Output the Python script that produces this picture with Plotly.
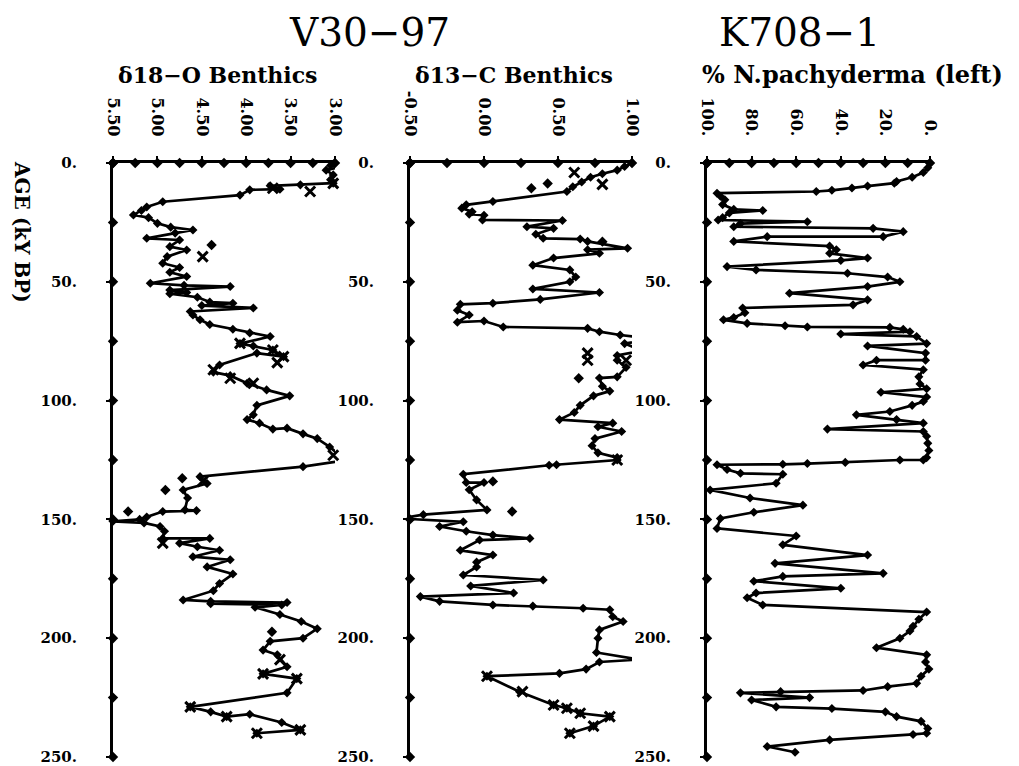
import numpy as np
import plotly.graph_objects as go

W, H = 1019, 766          # browser window
OFF = 8                   # default page body margin
FW, FH = W - 2 * OFF, H - OFF

# ---------------- data ----------------
# Panel 1: V30-97 delta18-O benthics (age kyr BP, permil)
p1_age = [0, 1, 2, 3, 5, 7, 8.5, 9.2, 9.6, 11, 11.3, 13.5, 16.3, 18.5, 20, 21.9, 23, 25.4, 27, 28.2,
          29.5, 31.7, 32.4, 35.2, 36.6, 39.4, 42.2, 44, 46, 47.8, 50.6, 51.5, 52, 53.5, 54.5, 55, 56.5,
          58.5, 59, 60, 61, 62.5, 64, 66, 68, 70, 71.5, 73, 76, 77, 78.7, 81.5, 80, 85, 88, 89.5, 92.7,
          95.5, 98, 102, 106, 108, 109.5, 112, 111.6, 114, 116, 119.5, 122, 125, 127.8, 132, 134.9,
          137.6, 141, 146, 146.3, 146.7, 149, 150, 150.8, 151.5, 153, 155, 158, 158, 160, 161.5, 163,
          165.7, 167, 170, 173, 177, 180, 183.9, 184.5, 185, 185.5, 186, 187, 190, 193, 196, 200,
          201.3, 205, 207, 212, 215, 217, 223, 228.9, 231, 233, 232, 235.5, 238.6, 240]
p1_val = [3.00, 3.05, 2.98, 3.10, 3.02, 3.05, 3.02, 3.39, 3.73, 3.62, 3.96, 4.07, 4.94, 5.12, 5.18, 5.27,
          5.10, 5.00, 4.85, 4.60, 4.80, 5.12, 4.75, 4.86, 4.67, 4.89, 4.94, 4.75, 4.86, 4.67, 5.08, 4.70,
          4.18, 4.86, 4.67, 4.86, 4.55, 4.41, 4.15, 4.50, 3.92, 4.63, 4.60, 4.52, 4.41, 4.15, 3.96, 3.73,
          4.07, 3.92, 3.70, 3.58, 3.88, 4.30, 4.37, 4.18, 3.99, 3.77, 3.51, 3.88, 3.92, 3.99, 3.85, 3.70,
          3.54, 3.36, 3.20, 3.06, 2.98, 2.86, 3.36, 4.52, 4.44, 4.71, 4.66, 4.69, 4.56, 4.94, 5.12, 5.20,
          5.50, 5.15, 4.97, 4.92, 4.94, 4.41, 4.75, 4.55, 4.30, 4.60, 4.18, 4.44, 4.15, 4.30, 4.37, 4.71,
          4.40, 3.54, 4.40, 3.60, 3.90, 3.62, 3.38, 3.20, 3.36, 3.73, 3.81, 3.65, 3.54, 3.81, 3.43, 3.54,
          4.63, 4.40, 4.22, 3.96, 3.60, 3.39, 3.88]
p1_pt_age = [34.5, 132.7, 137.6, 146.7, 197.3]
p1_pt_val = [4.39, 4.72, 4.91, 5.33, 3.71]
p1_x_age = [2.2, 8.6, 12, 10.6, 39.4, 75.9, 78.7, 81.5, 84, 87, 90.6, 92.7, 122, 125, 123, 134, 160,
            209, 215, 217, 228.9, 233, 238.6, 240]
p1_x_val = [2.98, 3.02, 3.28, 3.70, 4.49, 4.07, 3.70, 3.58, 3.65, 4.37, 4.18, 3.92, 2.98, 2.86, 3.02,
            4.49, 4.94, 3.62, 3.81, 3.43, 4.63, 4.22, 3.39, 3.88]

# Panel 2: V30-97 delta13-C benthics
p2_age = [0, 1.5, 3, 4.5, 6, 8, 10, 12, 16.2, 17.6, 19, 20.5, 21.5, 22, 24, 24.2, 26.8, 27.5, 30, 31.7,
          32, 33, 35.9, 36.5, 38, 40, 43, 45, 48, 50, 53, 54.5, 57.4, 59, 59.5, 62, 64, 67, 66.5, 69,
          69.6, 71, 72.4, 74, 76, 79, 81, 83, 86, 90, 90.5, 94, 96, 98, 102, 105, 108, 109.5, 111, 113,
          116, 119, 122, 124, 125, 127, 127.2, 131, 134.5, 134.5, 137.5, 141.8, 146, 148, 149.6, 151,
          153, 155, 156.6, 158, 158.7, 163, 165, 168, 170, 173.4, 175.5, 178, 181, 182.5, 184.5, 186,
          186.5, 187.4, 188, 191, 193, 196.5, 200, 206, 209, 210, 213, 214.8, 216, 222.5, 228.1, 229.5,
          231.6, 233, 237, 240]
p2_val = [1.00, 0.95, 0.90, 0.80, 0.72, 0.66, 0.60, 0.56, 0.06, -0.12, -0.15, -0.08, -0.10, 0.00, -0.01,
          0.53, 0.29, 0.47, 0.35, 0.40, 0.65, 0.70, 0.97, 0.70, 0.78, 0.47, 0.33, 0.58, 0.62, 0.58, 0.33,
          0.78, 0.38, 0.06, -0.16, -0.18, -0.10, -0.18, 0.00, 0.13, 0.70, 0.78, 0.92, 1.14, 0.95, 1.07,
          0.90, 0.90, 0.96, 0.90, 0.78, 0.80, 0.85, 0.74, 0.65, 0.61, 0.51, 0.87, 0.77, 0.93, 0.75, 0.73,
          0.77, 0.90, 0.90, 0.49, 0.44, -0.14, -0.12, 0.00, -0.10, -0.05, 0.02, -0.41, -0.57, -0.14, -0.30,
          -0.12, 0.06, 0.31, -0.03, -0.16, 0.06, -0.05, -0.05, -0.14, 0.40, -0.09, 0.20, -0.43, -0.30, 0.06,
          0.33, 0.67, 0.85, 0.87, 0.94, 0.78, 0.77, 0.76, 1.05, 0.78, 0.69, 0.51, 0.02, 0.24, 0.47, 0.56,
          0.65, 0.85, 0.74, 0.58]
p2_pt_age = [10.6, 8.6, 33.1, 90.6, 134, 146.7, 194.5]
p2_pt_val = [0.32, 0.43, 0.80, 0.64, 0.06, 0.19, 1.01]
p2_x_age = [0.4, 8.2, 4, 9, 38.7, 35.9, 75, 78, 79, 80, 83, 83, 89.9, 125, 209, 216, 222.5, 228.1,
            229.5, 231.6, 233, 237, 240]
p2_x_val = [1.07, 1.05, 0.61, 0.80, 1.01, 1.18, 1.24, 1.18, 1.07, 0.70, 0.70, 0.96, 1.02, 0.90, 1.05,
            0.02, 0.26, 0.47, 0.56, 0.65, 0.85, 0.74, 0.58]

# Panel 3: K708-1 % N. pachyderma (left)
p3_age = [0, 2, 4, 6, 7.8, 8.5, 9.7, 10.5, 11.5, 12, 12.7, 14, 15.5, 17.5, 19.5, 20, 21, 23, 24, 24.7,
          25.5, 26.8, 27.5, 28.9, 31, 31, 33, 35, 36.5, 38, 40, 41, 43.6, 45, 46.4, 48, 50, 52, 54.8,
          57.6, 59.7, 61, 63, 65, 66, 67.5, 68.5, 69, 69.2, 70, 71, 72, 73, 76, 77, 80, 83, 83, 85, 87,
          90, 93, 95, 96.5, 98.5, 100.4, 102, 104.6, 106, 108, 109.5, 112, 113, 115, 118, 121, 124, 125,
          125, 126, 126.5, 126.8, 127, 129, 130.6, 131, 134.8, 137.6, 141, 144, 147, 149.6, 153.8, 157,
          160.7, 165, 168.5, 172.7, 174, 176, 179, 181, 183, 186, 189, 192, 195, 197, 200, 204, 207, 210,
          213, 216, 219, 220.4, 222, 222.5, 223, 225, 226, 228.9, 229.6, 231, 233, 235, 238, 240, 240.5,
          242.8, 245.6, 248]
p3_val = [0, 1, 3, 8, 15, 16, 28, 35, 44, 51, 95.5, 94, 92, 93, 88, 75, 90, 93, 95, 55, 85, 88, 25.5, 12,
          21, 73, 88, 45, 42, 45, 28, 40, 91, 78, 37, 19, 13.5, 28, 63, 28, 34.5, 84, 83, 88, 92.6, 82, 65,
          55, 18, 12, 9, 40, 6, 1.5, 28, 2, 2, 24, 30, 3, 5, 4.5, 1.5, 22, 1.5, 3, 8, 18, 33, 15, 3, 46, 3,
          1.5, 1, 0.5, 1.5, 3, 13.5, 38, 55, 66, 95.5, 91, 85, 66, 69, 98.6, 80.7, 57, 79, 94, 95.5, 60, 66,
          28, 69.5, 21, 66, 79, 40, 78, 82, 75, 1.5, 5, 7.6, 9, 13.5, 24, 1.5, 2, 0.5, 4, 6, 19, 30, 67, 85,
          54, 80, 69, 44, 20, 15, 4, 1, 1.5, 7.6, 45, 73, 60.5]

# axes
age_ticks = [0, 50, 100, 150, 200, 250]
age_text = ["0.", "50.", "100.", "150.", "200.", "250."]
p1_ticks = [5.5, 5.0, 4.5, 4.0, 3.5, 3.0]
p1_text = ["5.50", "5.00", "4.50", "4.00", "3.50", "3.00"]
p2_ticks = [-0.5, 0.0, 0.5, 1.0]
p2_text = ["-0.50", "0.00", "0.50", "1.00"]
p3_ticks = [100, 80, 60, 40, 20, 0]
p3_text = ["100.", "80.", "60.", "40.", "20.", "0."]

# ---------------- layout helpers (screen pixels -> paper) ----------------
def px_x(p):
    return (p - OFF) / FW

def px_y(p):
    return 1 - (p - OFF) / FH

panel_px = [(113, 335), (410, 632), (707, 930)]
y_top, y_bot = 163, 757
ranges = [[5.5, 3.0], [-0.5, 1.0], [100, 0]]
minor = [0.25, 0.25, 10]
tickv = [p1_ticks, p2_ticks, p3_ticks]
tickt = [p1_text, p2_text, p3_text]

TFONT = "DejaVu Serif"
fig = go.Figure()

series = [
    (p1_age, p1_val, p1_pt_age, p1_pt_val, p1_x_age, p1_x_val),
    (p2_age, p2_val, p2_pt_age, p2_pt_val, p2_x_age, p2_x_val),
    (p3_age, p3_val, [], [], [], []),
]

for i, (a, v, pa, pv, xa, xv) in enumerate(series):
    xs = "x" if i == 0 else f"x{i+1}"
    ys = "y" if i == 0 else f"y{i+1}"
    # axis decoration: diamond tick marks along axis lines
    lo, hi = min(ranges[i]), max(ranges[i])
    tv = np.arange(lo, hi + minor[i] / 2, minor[i])
    fig.add_trace(go.Scatter(x=tv, y=[0] * len(tv), xaxis=xs, yaxis=ys, mode="markers",
                             marker=dict(symbol="diamond", size=8, color="black"),
                             cliponaxis=False, showlegend=False, hoverinfo="skip"))
    av = np.arange(0, 251, 25)
    fig.add_trace(go.Scatter(x=[ranges[i][0]] * len(av), y=av, xaxis=xs, yaxis=ys, mode="markers",
                             marker=dict(symbol="diamond", size=8, color="black"),
                             cliponaxis=False, showlegend=False, hoverinfo="skip"))
    # data line
    fig.add_trace(go.Scatter(x=v, y=a, xaxis=xs, yaxis=ys, mode="lines+markers",
                             line=dict(color="black", width=2.7),
                             marker=dict(symbol="diamond", size=7, color="black"),
                             cliponaxis=False, showlegend=False))
    if pa:
        fig.add_trace(go.Scatter(x=pv, y=pa, xaxis=xs, yaxis=ys, mode="markers",
                                 marker=dict(symbol="diamond", size=8, color="black"),
                                 cliponaxis=False, showlegend=False))
    if xa:
        fig.add_trace(go.Scatter(x=xv, y=xa, xaxis=xs, yaxis=ys, mode="markers",
                                 marker=dict(symbol="x-thin", size=10, color="black",
                                             line=dict(width=3, color="black")),
                                 cliponaxis=False, showlegend=False))

layout = dict(width=FW, height=FH, margin=dict(l=0, r=0, t=0, b=0, autoexpand=False),
              paper_bgcolor="white", plot_bgcolor="white", showlegend=False)
for i in range(3):
    xk = "xaxis" if i == 0 else f"xaxis{i+1}"
    yk = "yaxis" if i == 0 else f"yaxis{i+1}"
    xs = "x" if i == 0 else f"x{i+1}"
    ys = "y" if i == 0 else f"y{i+1}"
    layout[xk] = dict(domain=[px_x(panel_px[i][0]), px_x(panel_px[i][1])], anchor=ys, side="top",
                      range=ranges[i], tickmode="array", tickvals=tickv[i], ticktext=tickt[i],
                      tickangle=90, showline=True, linecolor="black", linewidth=3,
                      ticks="outside", ticklen=4, tickwidth=2, tickcolor="black",
                      ticklabelstandoff=14, automargin=False, ticklabeloverflow="allow",
                      showgrid=False, zeroline=False,
                      tickfont=dict(family=TFONT, size=16, color="black", weight="bold"))
    layout[yk] = dict(domain=[px_y(y_bot), px_y(y_top)], anchor=xs, range=[250, 0],
                      tickmode="array", tickvals=age_ticks, ticktext=age_text,
                      showline=True, linecolor="black", linewidth=3,
                      ticks="outside", ticklen=4, tickwidth=2, tickcolor="black",
                      ticklabelstandoff=26, automargin=False, ticklabeloverflow="allow",
                      showgrid=False, zeroline=False,
                      tickfont=dict(family=TFONT, size=15, color="black", weight="bold"))
fig.update_layout(**layout)

ann = [
    dict(text="V30−97", x=px_x(369), y=px_y(32), font=dict(family=TFONT, size=39, color="black")),
    dict(text="K708−1", x=px_x(799), y=px_y(32), font=dict(family=TFONT, size=39, color="black")),
    dict(text="δ18−O Benthics", x=px_x(217), y=px_y(75),
         font=dict(family=TFONT, size=22, color="black", weight="bold")),
    dict(text="δ13−C Benthics", x=px_x(514), y=px_y(75),
         font=dict(family=TFONT, size=22, color="black", weight="bold")),
    dict(text="% N.pachyderma (left)", x=px_x(852), y=px_y(75),
         font=dict(family=TFONT, size=24, color="black", weight="bold")),
    dict(text="AGE (kY BP)", x=px_x(22), y=px_y(232), textangle=90,
         font=dict(family=TFONT, size=20, color="black", weight="bold")),
]
for a in ann:
    fig.add_annotation(xref="paper", yref="paper", showarrow=False, xanchor="center",
                       yanchor="middle", **a)

fig.write_html("out.html")
